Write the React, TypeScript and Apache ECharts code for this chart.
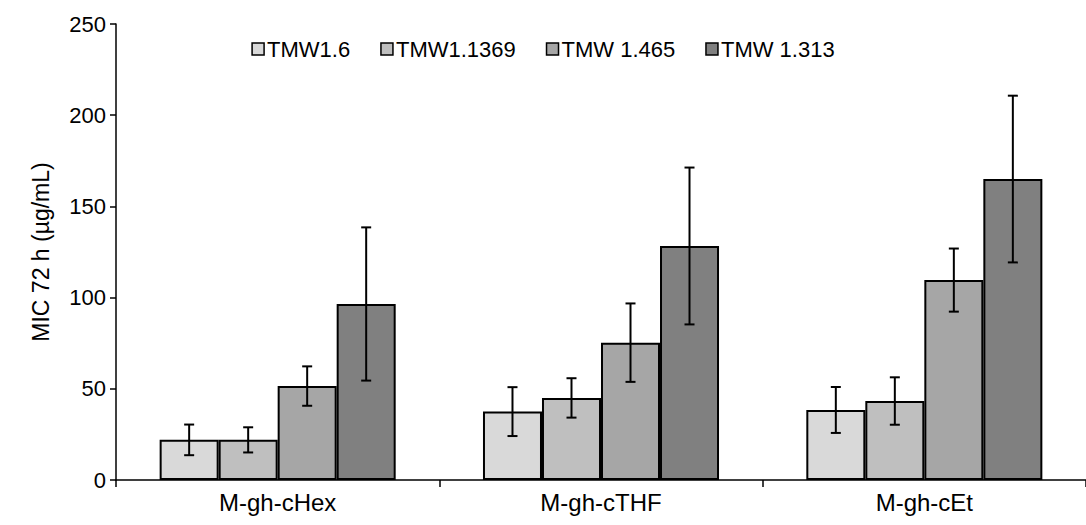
import React, { useEffect, useRef } from "react";
import * as echarts from "echarts";

const categories = ["M-gh-cHex", "M-gh-cTHF", "M-gh-cEt"];
const seriesNames = ["TMW1.6", "TMW1.1369", "TMW 1.465", "TMW 1.313"];
const colors = ["#d9d9d9", "#bfbfbf", "#a6a6a6", "#808080"];
// mean values per series (one per category)
const meanTMW16 = [22, 37.5, 38.4];
const meanTMW11369 = [22, 45, 43.3];
const meanTMW1465 = [51.5, 75.3, 109.6];
const meanTMW1313 = [96.5, 128.3, 165];
// standard deviation per series
const sdTMW16 = [8.4, 13.4, 12.6];
const sdTMW11369 = [6.9, 10.8, 13];
const sdTMW1465 = [10.8, 21.5, 17.3];
const sdTMW1313 = [42, 43, 45.7];
const yTicks = [0, 50, 100, 150, 200, 250];

const means = [meanTMW16, meanTMW11369, meanTMW1465, meanTMW1313];
const sds = [sdTMW16, sdTMW11369, sdTMW1465, sdTMW1313];

const FONT = "'Liberation Sans', Arial, sans-serif";
const GAP = 0.27;

export default function App() {
  const ref = useRef<HTMLDivElement>(null);
  useEffect(() => {
    if (!ref.current) return;
    const chart = echarts.init(ref.current, null, { renderer: "svg" });
    const errData: any[] = [];
    means.forEach((m, s) => {
      m.forEach((v, c) => {
        errData.push([c, v - sds[s][c], v + sds[s][c], s]);
      });
    });
    const barSeries = seriesNames.map((name, i) => ({
      name,
      type: "bar",
      data: means[i],
      barGap: "0%",
      barCategoryGap: GAP * 100 + "%",
      itemStyle: { color: colors[i], borderColor: "#000", borderWidth: 2 },
    }));
    chart.setOption({
      animation: false,
      textStyle: { fontFamily: FONT },
      legend: {
        data: seriesNames,
        left: "center",
        top: 33,
        icon: "rect",
        itemWidth: 12,
        itemHeight: 12,
        itemGap: 30,
        textStyle: { fontSize: 22, color: "#000", fontFamily: FONT, padding: [0, 0, 0, -2] },
        itemStyle: { borderColor: "#000", borderWidth: 1.5 },
      },
      grid: { left: 116, top: 24, height: 456, width: 981 },
      xAxis: {
        type: "category",
        data: categories,
        axisLine: { lineStyle: { color: "#000", width: 1.5 } },
        axisTick: { show: true, length: 7, lineStyle: { color: "#000", width: 1.5 } },
        axisLabel: { color: "#000", fontSize: 24, margin: 10, fontFamily: FONT },
      },
      yAxis: {
        type: "value",
        min: 0,
        max: 250,
        interval: 50,
        name: "MIC 72 h (µg/mL)",
        nameLocation: "middle",
        nameGap: 64,
        nameTextStyle: { fontSize: 23, color: "#000", fontFamily: FONT },
        axisLine: { show: true, lineStyle: { color: "#000", width: 1.5 } },
        axisTick: { show: true, length: 6, lineStyle: { color: "#000", width: 1.5 } },
        axisLabel: {
          color: "#000",
          fontSize: 22,
          margin: 10,
          fontFamily: FONT,
          formatter: (v: number) => (yTicks.includes(v) ? String(v) : ""),
        },
        splitLine: { show: false },
      },
      series: [
        ...barSeries,
        {
          type: "custom",
          name: "err",
          data: errData,
          z: 10,
          encode: { x: 0, y: [1, 2] },
          renderItem: (params: any, api: any) => {
            const c = api.value(0);
            const lo = api.value(1);
            const hi = api.value(2);
            const s = api.value(3);
            const band = api.size([1, 0])[0];
            const bw = (band * (1 - GAP)) / 4;
            const center = api.coord([c, 0])[0];
            const x = center + (s - 1.5) * bw;
            const yLo = api.coord([c, lo])[1];
            const yHi = api.coord([c, hi])[1];
            const cap = 5;
            const st = { stroke: "#000", lineWidth: 2 };
            return {
              type: "group",
              children: [
                { type: "line", shape: { x1: x, y1: yLo, x2: x, y2: yHi }, style: st },
                { type: "line", shape: { x1: x - cap, y1: yLo, x2: x + cap, y2: yLo }, style: st },
                { type: "line", shape: { x1: x - cap, y1: yHi, x2: x + cap, y2: yHi }, style: st },
              ],
            };
          },
        },
      ],
    });
    return () => chart.dispose();
  }, []);
  return (
    <div
      ref={ref}
      style={{ position: "fixed", left: 0, top: 0, width: 1086, height: 525, background: "#fff" }}
    />
  );
}
